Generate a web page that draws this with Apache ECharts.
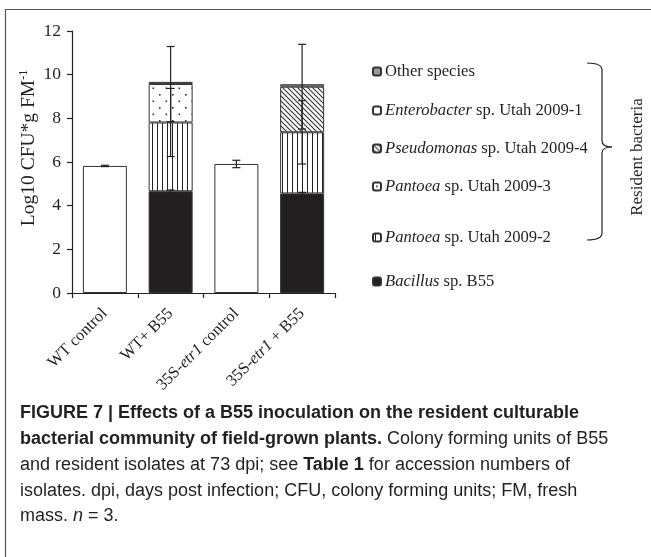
<!DOCTYPE html>
<html>
<head>
<meta charset="utf-8">
<script src="https://cdn.jsdelivr.net/npm/echarts@6/dist/echarts.min.js"></script>
<style>
html,body{margin:0;padding:0;background:#fff;}
#chart{width:651px;height:557px;}
</style>
</head>
<body>
<div id="chart"></div>
<script>
// ---- data ----
const categories = ['WT control', 'WT+ B55', '35S-etr1 control', '35S-etr1 + B55'];
const yTicks = [0, 2, 4, 6, 8, 10, 12];
const controlVals      = [5.82, '-', 5.91, '-'];
const bacillusVals     = ['-', 4.66, '-', 4.56];
const pantoea2Vals     = ['-', 3.15, '-', 2.80];
const pantoea3Vals     = ['-', 1.76, '-', '-'];
const pseudomonasVals  = ['-', '-', '-', 2.09];
const enterobacterVals = ['-', '-', '-', '-'];
const otherVals        = ['-', 0.10, '-', 0.11];
// error half-widths (at top of each segment)
const controlErr  = [0.03, '-', 0.17, '-'];
const bacillusErr = ['-', 0.06, '-', 0.05];
const pantoea2Err = ['-', 1.56, '-', 1.45];
const pantoea3Err = ['-', 1.72, '-', '-'];
const pseudoErr   = ['-', '-', '-', 1.94];

const serif = "'Liberation Serif','Times New Roman',serif";
const ink = '#231f20';

function pat(type) {
  const c = document.createElement('canvas');
  const ctx = c.getContext('2d');
  if (type === 'vstripe') {
    c.width = 5; c.height = 4;
    ctx.fillStyle = '#fff'; ctx.fillRect(0, 0, 5, 4);
    ctx.fillStyle = '#222'; ctx.fillRect(2, 0, 1, 4);
  } else if (type === 'dots') {
    c.width = 13; c.height = 13;
    ctx.fillStyle = '#fff'; ctx.fillRect(0, 0, 13, 13);
    ctx.fillStyle = '#333';
    ctx.fillRect(3, 3, 1.6, 1.6); ctx.fillRect(9.5, 9.5, 1.6, 1.6);
  } else if (type === 'diag') {
    const s = 5; c.width = s; c.height = s;
    ctx.fillStyle = '#fff'; ctx.fillRect(0, 0, s, s);
    ctx.strokeStyle = '#333'; ctx.lineWidth = 1.1;
    ctx.beginPath();
    ctx.moveTo(-1, -1); ctx.lineTo(s + 1, s + 1);
    ctx.moveTo(-1, s - 1); ctx.lineTo(1, s + 1);
    ctx.moveTo(s - 1, -1); ctx.lineTo(s + 1, 1);
    ctx.stroke();
  }
  return { image: c, repeat: 'repeat' };
}

const border = { borderColor: '#333', borderWidth: 1 };
function barSeries(name, data, color) {
  return {
    name: name, type: 'bar', stack: 'total', data: data, barWidth: 44,
    itemStyle: Object.assign({ color: color }, border), z: 2
  };
}

const seriesDefs = [
  { key: 'Control', vals: controlVals, err: controlErr },
  { key: 'Bacillus sp. B55', vals: bacillusVals, err: bacillusErr },
  { key: 'Pantoea sp. Utah 2009-2', vals: pantoea2Vals, err: pantoea2Err },
  { key: 'Pantoea sp. Utah 2009-3', vals: pantoea3Vals, err: pantoea3Err },
  { key: 'Pseudomonas sp. Utah 2009-4', vals: pseudomonasVals, err: pseudoErr },
  { key: 'Enterobacter sp. Utah 2009-1', vals: enterobacterVals, err: null },
  { key: 'Other species', vals: otherVals, err: null }
];

// build error bar items from cumulative stack tops
const errItems = [];
const cum = [0, 0, 0, 0];
seriesDefs.forEach(function (d) {
  for (let i = 0; i < categories.length; i++) {
    const v = d.vals[i];
    if (v === '-') continue;
    cum[i] += v;
    if (d.err && d.err[i] !== '-') {
      errItems.push([i, cum[i] - d.err[i], cum[i] + d.err[i]]);
    }
  }
});

const legendNames = ['Other species', 'Enterobacter sp. Utah 2009-1', 'Pseudomonas sp. Utah 2009-4',
  'Pantoea sp. Utah 2009-3', 'Pantoea sp. Utah 2009-2', 'Bacillus sp. B55'];
const legendTops = [73, 112, 150, 188, 239, 283];

function legendFmt(name) {
  const i = name.indexOf(' sp.');
  if (name === 'Other species') return '{n|Other species}';
  return '{i|' + name.slice(0, i) + '}{n|' + name.slice(i) + '}';
}

const legFS = 16.6;
const legends = legendNames.map(function (n, k) {
  return {
    data: [n], left: 372, top: legendTops[k] - 10, orient: 'vertical',
    padding: 0, itemWidth: 8, itemHeight: 8, itemGap: 0,
    selectedMode: false, formatter: legendFmt,
    textStyle: {
      fontFamily: serif, fontSize: legFS, color: ink, padding: [0, 0, 0, -1],
      rich: {
        n: { fontFamily: serif, fontSize: legFS, color: ink },
        i: { fontFamily: serif, fontSize: legFS, color: ink, fontStyle: 'italic' }
      }
    }
  };
});

const chart = echarts.init(document.getElementById('chart'), null, { renderer: 'canvas' });

const capFont = "'Liberation Sans Narrow','Liberation Sans',Arial,sans-serif";
const capSize = 18;
const capRich = {
  b: { fontFamily: capFont, fontSize: capSize, fontWeight: 'bold', fill: ink },
  n: { fontFamily: capFont, fontSize: capSize, fill: ink },
  i: { fontFamily: capFont, fontSize: capSize, fontStyle: 'italic', fill: ink }
};
const capLines = [
  '{b|FIGURE 7 | Effects of a B55 inoculation on the resident culturable}',
  '{b|bacterial community of field-grown plants.}{n| Colony forming units of B55}',
  '{n|and resident isolates at 73 dpi; see }{b|Table 1}{n| for accession numbers of}',
  '{n|isolates. dpi, days post infection; CFU, colony forming units; FM, fresh}',
  '{n|mass. }{i|n}{n| = 3.}'
];
const capY = [413, 439, 465, 491, 516];

const bst = { stroke: '#222', lineWidth: 1.2, fill: null };
const graphics = [
  { type: 'line', shape: { x1: 5, y1: 9.5, x2: 651, y2: 9.5 }, style: { stroke: '#555', lineWidth: 1.2 } },
  { type: 'line', shape: { x1: 5.5, y1: 9, x2: 5.5, y2: 557 }, style: { stroke: '#555', lineWidth: 1.2 } },
  { type: 'bezierCurve', shape: { x1: 587, y1: 63, cpx1: 602, cpy1: 63, x2: 602, y2: 70 }, style: bst },
  { type: 'line', shape: { x1: 602, y1: 70, x2: 602, y2: 141 }, style: bst },
  { type: 'bezierCurve', shape: { x1: 602, y1: 141, cpx1: 602, cpy1: 147, x2: 612, y2: 147 }, style: bst },
  { type: 'bezierCurve', shape: { x1: 612, y1: 147, cpx1: 602, cpy1: 147, x2: 602, y2: 153 }, style: bst },
  { type: 'line', shape: { x1: 602, y1: 153, x2: 602, y2: 233 }, style: bst },
  { type: 'bezierCurve', shape: { x1: 602, y1: 233, cpx1: 602, cpy1: 240, x2: 587, y2: 240 }, style: bst },
  { type: 'text', x: 638, y: 157, rotation: Math.PI / 2,
    style: { text: 'Resident bacteria', font: '17px ' + serif, fill: ink, align: 'center', verticalAlign: 'middle' } }
];
capLines.forEach(function (t, k) {
  graphics.push({ type: 'text', x: 20, y: capY[k],
    style: { text: t, rich: capRich, font: capSize + 'px ' + capFont, fill: ink, verticalAlign: 'middle' } });
});

const series = seriesDefs.map(function (d) {
  let color;
  switch (d.key) {
    case 'Control': color = '#fff'; break;
    case 'Bacillus sp. B55': color = '#231f20'; break;
    case 'Pantoea sp. Utah 2009-2': color = pat('vstripe'); break;
    case 'Pantoea sp. Utah 2009-3': color = pat('dots'); break;
    case 'Pseudomonas sp. Utah 2009-4': color = pat('diag'); break;
    case 'Enterobacter sp. Utah 2009-1': color = '#fff'; break;
    default: color = '#9a9a9a';
  }
  return barSeries(d.key, d.vals, color);
});

series.push({
  type: 'custom', name: 'err', z: 5, silent: true,
  data: errItems,
  renderItem: function (params, api) {
    const x = api.value(0);
    const lo = api.coord([x, api.value(1)]);
    const hi = api.coord([x, api.value(2)]);
    const hw = 4;
    const st = { stroke: '#222', lineWidth: 1.2 };
    return {
      type: 'group', children: [
        { type: 'line', shape: { x1: lo[0], y1: lo[1], x2: hi[0], y2: hi[1] }, style: st },
        { type: 'line', shape: { x1: lo[0] - hw, y1: lo[1], x2: lo[0] + hw, y2: lo[1] }, style: st },
        { type: 'line', shape: { x1: hi[0] - hw, y1: hi[1], x2: hi[0] + hw, y2: hi[1] }, style: st }
      ]
    };
  }
});

chart.setOption({
  animation: false,
  backgroundColor: '#fff',
  grid: { left: 72, right: 316, top: 31, bottom: 264, containLabel: false },
  legend: legends,
  xAxis: {
    type: 'category', data: categories,
    axisLine: { lineStyle: { color: '#222', width: 1.2 } },
    axisTick: { show: true, length: 5, inside: false, lineStyle: { color: '#222', width: 1.2 } },
    axisLabel: {
      rotate: 45, margin: 18, interval: 0,
      formatter: function (v) {
        return '{n|' + v.replace('etr1', '}{i|etr1}{n|') + '}';
      },
      rich: {
        n: { fontFamily: serif, fontSize: 16.5, color: ink },
        i: { fontFamily: serif, fontSize: 16.5, color: ink, fontStyle: 'italic' }
      }
    }
  },
  yAxis: {
    type: 'value', min: 0, max: 12, interval: 2,
    splitLine: { show: false },
    axisLine: { show: true, lineStyle: { color: '#222', width: 1.2 } },
    axisTick: { show: true, length: 5, lineStyle: { color: '#222', width: 1.2 } },
    axisLabel: { fontFamily: serif, fontSize: 17.5, color: ink, margin: 11,
      formatter: function (v) { return yTicks.indexOf(v) >= 0 ? String(v) : ''; } },
    name: '{n|Log10 CFU*g FM}{s|-1}',
    nameLocation: 'middle', nameGap: 33, nameRotate: 90,
    nameTextStyle: {
      padding: [0, 0, 0, 28],
      rich: {
        n: { fontFamily: serif, fontSize: 19.5, color: ink },
        s: { fontFamily: serif, fontSize: 12, color: ink, verticalAlign: 'top', padding: [0, 0, 9, 0] }
      }
    }
  },
  graphic: graphics,
  series: series
});
</script>
</body>
</html>
